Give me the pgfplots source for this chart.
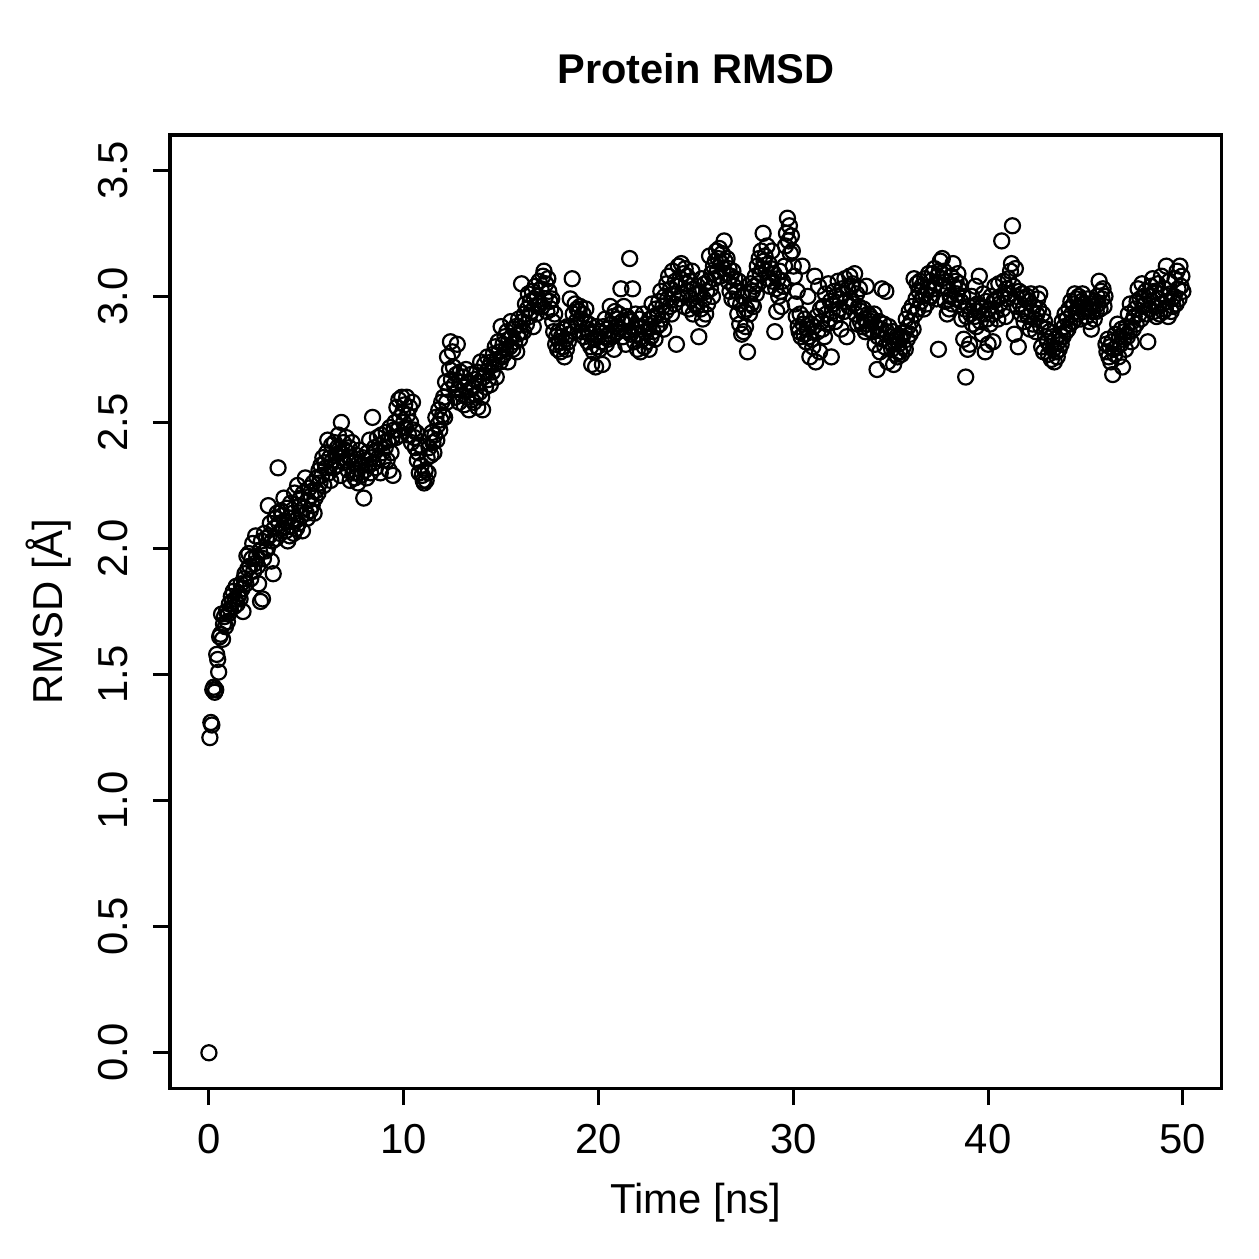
\documentclass[border=0pt]{standalone}
\usepackage{fontspec}
\setmainfont{Liberation Sans}
\usepackage{pgfplots}
\usepackage{pgfplotstable}
\pgfplotsset{compat=1.18}

% Backbone RMSD, one frame every 0.05 ns (frame 0 = reference structure)
\pgfplotstableread[row sep=\\]{
rmsd\\ 0.00\\
1.25\\ 1.31\\ 1.30\\ 1.44\\ 1.45\\ 1.43\\ 1.44\\ 1.58\\ 1.56\\ 1.51\\
1.65\\ 1.66\\ 1.74\\ 1.64\\ 1.70\\ 1.73\\ 1.69\\ 1.75\\ 1.71\\ 1.74\\
1.78\\ 1.76\\ 1.81\\ 1.79\\ 1.83\\ 1.77\\ 1.80\\ 1.85\\ 1.78\\ 1.81\\
1.82\\ 1.80\\ 1.86\\ 1.84\\ 1.75\\ 1.88\\ 1.90\\ 1.86\\ 1.97\\ 1.92\\
1.98\\ 1.93\\ 1.88\\ 1.96\\ 2.02\\ 1.91\\ 1.94\\ 2.05\\ 1.97\\ 1.93\\
1.86\\ 1.99\\ 1.79\\ 2.03\\ 1.80\\ 1.96\\ 2.06\\ 1.99\\ 2.04\\ 2.00\\
2.17\\ 2.05\\ 2.10\\ 1.95\\ 2.03\\ 1.90\\ 2.08\\ 2.12\\ 2.04\\ 2.14\\
2.32\\ 2.10\\ 2.06\\ 2.15\\ 2.13\\ 2.08\\ 2.20\\ 2.11\\ 2.07\\ 2.16\\
2.03\\ 2.12\\ 2.05\\ 2.18\\ 2.09\\ 2.14\\ 2.06\\ 2.22\\ 2.11\\ 2.08\\
2.25\\ 2.10\\ 2.17\\ 2.20\\ 2.13\\ 2.07\\ 2.22\\ 2.16\\ 2.28\\ 2.14\\
2.12\\ 2.19\\ 2.24\\ 2.15\\ 2.21\\ 2.17\\ 2.26\\ 2.14\\ 2.20\\ 2.23\\
2.28\\ 2.22\\ 2.31\\ 2.26\\ 2.33\\ 2.29\\ 2.36\\ 2.25\\ 2.34\\ 2.32\\
2.38\\ 2.43\\ 2.30\\ 2.36\\ 2.27\\ 2.41\\ 2.35\\ 2.32\\ 2.42\\ 2.37\\
2.33\\ 2.40\\ 2.45\\ 2.38\\ 2.29\\ 2.50\\ 2.36\\ 2.42\\ 2.34\\ 2.39\\
2.44\\ 2.35\\ 2.31\\ 2.40\\ 2.27\\ 2.36\\ 2.42\\ 2.30\\ 2.34\\ 2.28\\
2.37\\ 2.30\\ 2.26\\ 2.34\\ 2.39\\ 2.29\\ 2.33\\ 2.36\\ 2.20\\ 2.31\\
2.35\\ 2.28\\ 2.38\\ 2.33\\ 2.43\\ 2.30\\ 2.36\\ 2.52\\ 2.34\\ 2.40\\
2.32\\ 2.39\\ 2.44\\ 2.36\\ 2.41\\ 2.30\\ 2.45\\ 2.38\\ 2.35\\ 2.42\\
2.40\\ 2.46\\ 2.35\\ 2.43\\ 2.31\\ 2.48\\ 2.38\\ 2.44\\ 2.29\\ 2.47\\
2.50\\ 2.44\\ 2.56\\ 2.47\\ 2.59\\ 2.52\\ 2.45\\ 2.60\\ 2.54\\ 2.50\\
2.57\\ 2.48\\ 2.60\\ 2.53\\ 2.45\\ 2.56\\ 2.50\\ 2.42\\ 2.58\\ 2.47\\
2.44\\ 2.40\\ 2.46\\ 2.35\\ 2.38\\ 2.30\\ 2.41\\ 2.33\\ 2.29\\ 2.27\\
2.26\\ 2.31\\ 2.27\\ 2.36\\ 2.30\\ 2.40\\ 2.44\\ 2.37\\ 2.46\\ 2.42\\
2.38\\ 2.45\\ 2.52\\ 2.43\\ 2.49\\ 2.55\\ 2.47\\ 2.51\\ 2.58\\ 2.53\\
2.60\\ 2.52\\ 2.66\\ 2.58\\ 2.76\\ 2.63\\ 2.71\\ 2.82\\ 2.67\\ 2.78\\
2.72\\ 2.65\\ 2.60\\ 2.69\\ 2.81\\ 2.63\\ 2.58\\ 2.70\\ 2.66\\ 2.61\\
2.68\\ 2.57\\ 2.64\\ 2.71\\ 2.60\\ 2.66\\ 2.55\\ 2.63\\ 2.69\\ 2.59\\
2.64\\ 2.58\\ 2.67\\ 2.61\\ 2.70\\ 2.56\\ 2.66\\ 2.62\\ 2.74\\ 2.60\\
2.55\\ 2.68\\ 2.73\\ 2.64\\ 2.70\\ 2.76\\ 2.67\\ 2.72\\ 2.65\\ 2.74\\
2.70\\ 2.77\\ 2.73\\ 2.80\\ 2.68\\ 2.75\\ 2.82\\ 2.78\\ 2.74\\ 2.88\\
2.76\\ 2.81\\ 2.77\\ 2.84\\ 2.79\\ 2.86\\ 2.74\\ 2.83\\ 2.80\\ 2.90\\
2.84\\ 2.79\\ 2.87\\ 2.82\\ 2.88\\ 2.78\\ 2.85\\ 2.91\\ 2.83\\ 2.86\\
3.05\\ 2.90\\ 2.86\\ 2.93\\ 2.97\\ 2.89\\ 2.95\\ 3.01\\ 2.92\\ 2.98\\
2.94\\ 3.02\\ 2.88\\ 2.99\\ 3.04\\ 2.93\\ 3.00\\ 2.96\\ 3.06\\ 2.97\\
3.03\\ 2.96\\ 3.08\\ 3.10\\ 2.99\\ 3.05\\ 2.94\\ 3.07\\ 3.02\\ 2.98\\
2.95\\ 2.99\\ 2.90\\ 2.86\\ 2.93\\ 2.81\\ 2.84\\ 2.79\\ 2.86\\ 2.82\\
2.78\\ 2.84\\ 2.80\\ 2.87\\ 2.76\\ 2.83\\ 2.79\\ 2.88\\ 2.82\\ 2.85\\
2.99\\ 2.88\\ 3.07\\ 2.93\\ 2.86\\ 2.97\\ 2.90\\ 2.95\\ 2.89\\ 2.94\\
2.96\\ 2.91\\ 2.86\\ 2.93\\ 2.84\\ 2.90\\ 2.95\\ 2.87\\ 2.82\\ 2.89\\
2.85\\ 2.80\\ 2.73\\ 2.86\\ 2.78\\ 2.83\\ 2.72\\ 2.88\\ 2.80\\ 2.84\\
2.79\\ 2.86\\ 2.82\\ 2.73\\ 2.88\\ 2.84\\ 2.91\\ 2.81\\ 2.87\\ 2.83\\
2.85\\ 2.96\\ 2.89\\ 2.84\\ 2.92\\ 2.79\\ 2.94\\ 2.88\\ 2.91\\ 2.86\\
2.93\\ 2.87\\ 3.03\\ 2.90\\ 2.84\\ 2.96\\ 2.89\\ 2.81\\ 2.92\\ 2.86\\
2.91\\ 3.15\\ 2.85\\ 2.90\\ 3.03\\ 2.87\\ 2.82\\ 2.93\\ 2.88\\ 2.79\\
2.85\\ 2.91\\ 2.78\\ 2.88\\ 2.83\\ 2.93\\ 2.80\\ 2.86\\ 2.89\\ 2.82\\
2.87\\ 2.79\\ 2.91\\ 2.84\\ 2.97\\ 2.86\\ 2.92\\ 2.83\\ 2.95\\ 2.88\\
2.93\\ 2.98\\ 2.89\\ 3.02\\ 2.91\\ 2.96\\ 2.87\\ 3.00\\ 2.94\\ 3.05\\
2.99\\ 3.08\\ 2.96\\ 3.03\\ 2.93\\ 3.10\\ 3.01\\ 2.97\\ 3.06\\ 2.81\\
3.04\\ 3.12\\ 2.99\\ 3.07\\ 3.13\\ 3.01\\ 3.09\\ 2.96\\ 3.11\\ 3.05\\
3.08\\ 3.02\\ 2.95\\ 3.06\\ 2.99\\ 3.10\\ 2.93\\ 3.03\\ 2.97\\ 3.01\\
2.96\\ 3.04\\ 2.84\\ 3.01\\ 2.95\\ 3.07\\ 2.91\\ 2.99\\ 3.05\\ 2.93\\
3.02\\ 2.97\\ 3.06\\ 3.16\\ 3.03\\ 3.09\\ 3.00\\ 3.12\\ 3.07\\ 3.14\\
3.18\\ 3.10\\ 3.15\\ 3.19\\ 3.08\\ 3.13\\ 3.17\\ 3.11\\ 3.22\\ 3.14\\
3.09\\ 3.15\\ 3.06\\ 3.11\\ 3.02\\ 3.08\\ 2.99\\ 3.10\\ 3.04\\ 3.07\\
2.98\\ 3.02\\ 2.93\\ 3.06\\ 2.89\\ 2.97\\ 2.85\\ 3.00\\ 2.86\\ 2.94\\
2.88\\ 2.95\\ 2.78\\ 3.01\\ 2.93\\ 3.05\\ 2.97\\ 3.02\\ 2.96\\ 3.04\\
3.08\\ 3.01\\ 3.12\\ 3.05\\ 3.15\\ 3.09\\ 3.18\\ 3.11\\ 3.25\\ 3.14\\
3.16\\ 3.10\\ 3.20\\ 3.07\\ 3.13\\ 3.04\\ 3.11\\ 3.18\\ 3.06\\ 3.09\\
2.86\\ 3.03\\ 2.94\\ 3.07\\ 3.00\\ 3.10\\ 3.02\\ 2.96\\ 3.06\\ 3.04\\
3.12\\ 3.20\\ 3.25\\ 3.31\\ 3.22\\ 3.28\\ 3.17\\ 3.24\\ 3.18\\ 3.12\\
3.08\\ 2.97\\ 2.92\\ 3.02\\ 2.88\\ 2.86\\ 2.93\\ 2.84\\ 3.12\\ 2.89\\
2.85\\ 2.91\\ 2.82\\ 2.87\\ 3.00\\ 2.84\\ 2.76\\ 2.89\\ 2.83\\ 2.80\\
2.88\\ 3.08\\ 2.74\\ 2.92\\ 2.86\\ 3.04\\ 2.78\\ 2.95\\ 2.90\\ 2.87\\
2.96\\ 2.84\\ 3.01\\ 2.93\\ 2.89\\ 3.05\\ 2.91\\ 2.98\\ 2.76\\ 2.94\\
2.97\\ 3.02\\ 2.90\\ 3.00\\ 2.93\\ 3.06\\ 2.95\\ 2.99\\ 2.87\\ 3.03\\
3.01\\ 2.94\\ 3.07\\ 2.98\\ 2.84\\ 3.03\\ 2.96\\ 3.08\\ 2.99\\ 3.04\\
3.05\\ 2.97\\ 3.09\\ 2.93\\ 3.01\\ 2.89\\ 2.96\\ 3.03\\ 2.90\\ 2.94\\
2.88\\ 2.95\\ 2.91\\ 2.86\\ 3.04\\ 2.89\\ 2.93\\ 2.87\\ 2.92\\ 2.90\\
2.91\\ 2.86\\ 2.93\\ 2.81\\ 2.88\\ 2.71\\ 2.84\\ 2.90\\ 2.78\\ 2.87\\
3.03\\ 2.83\\ 2.89\\ 2.80\\ 3.02\\ 2.86\\ 2.74\\ 2.88\\ 2.82\\ 2.84\\
2.79\\ 2.86\\ 2.73\\ 2.82\\ 2.77\\ 2.84\\ 2.76\\ 2.81\\ 2.78\\ 2.83\\
2.77\\ 2.84\\ 2.80\\ 2.86\\ 2.79\\ 2.91\\ 2.83\\ 2.88\\ 2.94\\ 2.85\\
2.90\\ 2.96\\ 2.87\\ 3.07\\ 2.93\\ 2.99\\ 3.05\\ 2.95\\ 3.02\\ 3.06\\
2.98\\ 3.04\\ 3.00\\ 2.95\\ 3.07\\ 3.01\\ 2.97\\ 3.03\\ 3.09\\ 3.00\\
3.06\\ 3.00\\ 3.09\\ 3.03\\ 3.11\\ 3.05\\ 2.99\\ 3.08\\ 2.79\\ 3.10\\
3.14\\ 3.07\\ 3.15\\ 3.04\\ 3.10\\ 2.98\\ 3.06\\ 2.93\\ 3.03\\ 2.95\\
3.00\\ 3.08\\ 2.97\\ 3.13\\ 3.04\\ 2.99\\ 3.06\\ 3.01\\ 3.09\\ 3.03\\
3.05\\ 2.98\\ 2.91\\ 3.00\\ 2.83\\ 2.95\\ 2.68\\ 2.92\\ 2.79\\ 2.96\\
2.81\\ 2.93\\ 3.00\\ 2.89\\ 2.96\\ 2.92\\ 3.04\\ 2.88\\ 2.97\\ 2.94\\
3.08\\ 2.90\\ 2.96\\ 2.85\\ 3.01\\ 2.93\\ 2.78\\ 2.98\\ 2.91\\ 2.81\\
2.95\\ 2.89\\ 3.00\\ 2.93\\ 2.82\\ 2.98\\ 3.04\\ 2.94\\ 2.99\\ 2.91\\
3.05\\ 2.97\\ 3.00\\ 3.22\\ 2.95\\ 3.06\\ 3.01\\ 2.92\\ 3.03\\ 2.99\\
3.07\\ 3.01\\ 3.10\\ 3.13\\ 3.28\\ 3.04\\ 2.85\\ 3.11\\ 3.00\\ 2.96\\
2.80\\ 3.02\\ 2.97\\ 2.93\\ 3.01\\ 2.95\\ 2.90\\ 2.99\\ 2.94\\ 3.00\\
2.92\\ 2.98\\ 2.87\\ 3.01\\ 2.94\\ 2.89\\ 2.96\\ 2.91\\ 2.86\\ 2.93\\
2.99\\ 2.95\\ 3.01\\ 2.88\\ 2.80\\ 2.93\\ 2.78\\ 2.90\\ 2.84\\ 2.87\\
2.82\\ 2.77\\ 2.86\\ 2.80\\ 2.75\\ 2.84\\ 2.79\\ 2.74\\ 2.83\\ 2.78\\
2.76\\ 2.82\\ 2.79\\ 2.85\\ 2.81\\ 2.90\\ 2.84\\ 2.88\\ 2.93\\ 2.86\\
2.91\\ 2.87\\ 2.95\\ 2.89\\ 2.98\\ 2.93\\ 2.90\\ 2.97\\ 3.01\\ 2.94\\
2.99\\ 2.93\\ 3.00\\ 2.96\\ 2.91\\ 2.98\\ 3.01\\ 2.94\\ 2.97\\ 2.95\\
2.92\\ 2.99\\ 2.95\\ 2.90\\ 2.97\\ 2.87\\ 2.94\\ 2.96\\ 2.91\\ 2.98\\
2.94\\ 3.00\\ 2.97\\ 3.06\\ 2.95\\ 3.02\\ 2.99\\ 3.03\\ 2.96\\ 3.00\\
2.81\\ 2.78\\ 2.83\\ 2.76\\ 2.80\\ 2.74\\ 2.82\\ 2.69\\ 2.79\\ 2.77\\
2.85\\ 2.80\\ 2.89\\ 2.76\\ 2.84\\ 2.81\\ 2.87\\ 2.72\\ 2.83\\ 2.86\\
2.79\\ 2.88\\ 2.84\\ 2.93\\ 2.86\\ 2.97\\ 2.82\\ 2.90\\ 2.87\\ 2.92\\
2.95\\ 2.89\\ 2.98\\ 3.03\\ 2.93\\ 2.99\\ 2.91\\ 3.05\\ 2.96\\ 3.00\\
2.97\\ 3.02\\ 2.93\\ 2.82\\ 3.00\\ 2.95\\ 3.04\\ 2.98\\ 3.07\\ 2.94\\
3.02\\ 2.96\\ 2.92\\ 3.05\\ 2.99\\ 2.93\\ 3.01\\ 3.08\\ 2.97\\ 2.94\\
3.03\\ 2.95\\ 3.12\\ 2.98\\ 2.92\\ 3.06\\ 3.01\\ 2.94\\ 2.99\\ 2.96\\
3.00\\ 3.07\\ 2.97\\ 3.10\\ 3.03\\ 2.99\\ 3.12\\ 3.04\\ 3.08\\ 3.02\\
}\rmsddata

\begin{document}
\begin{tikzpicture}
\path[use as bounding box] (0,0) rectangle (400pt,400pt);
\begin{axis}[
  at={(54.0pt,54.3pt)}, anchor=south west,
  scale only axis, width=334.2pt, height=302.8pt,
  xmin=-2, xmax=52, ymin=-0.14, ymax=3.64,
  axis line style={line width=1pt},
  every tick/.style={black, line width=1pt},
  tick align=outside, major tick length=5.4pt,
  xtick pos=lower, ytick pos=left,
  minor tick num=0,
  xtick={0,10,20,30,40,50},
  xticklabels={0,10,20,30,40,50},
  ytick={0,0.5,1,1.5,2,2.5,3,3.5},
  yticklabels={0.0,0.5,1.0,1.5,2.0,2.5,3.0,3.5},
  tick label style={font=\fontsize{13.3}{15}\selectfont, inner sep=0pt},
  xticklabel style={anchor=north},
  yticklabel style={rotate=90, anchor=south},
  xticklabel shift=5.8pt,
  yticklabel shift=7.7pt,
  title={Protein RMSD},
  title style={at={(axis description cs:0.5,1.0347)}, anchor=base,
    inner sep=0pt, font=\bfseries\fontsize{13.2}{16}\selectfont},
  xlabel={Time [ns]},
  xlabel style={at={(axis description cs:0.5,-0.1311)}, anchor=base,
    inner sep=0pt, font=\fontsize{13.3}{15}\selectfont},
  ylabel={RMSD [Å]},
  ylabel style={at={(axis description cs:-0.1017,0.5)}, anchor=base,
    rotate=0, inner sep=0pt, font=\fontsize{13.3}{15}\selectfont},
  clip=false,
]
\addplot[only marks, mark=o, mark size=2.4pt, line width=0.7pt, black]
  table[x expr=\coordindex*0.05, y=rmsd] {\rmsddata};
\end{axis}
\end{tikzpicture}
\end{document}
